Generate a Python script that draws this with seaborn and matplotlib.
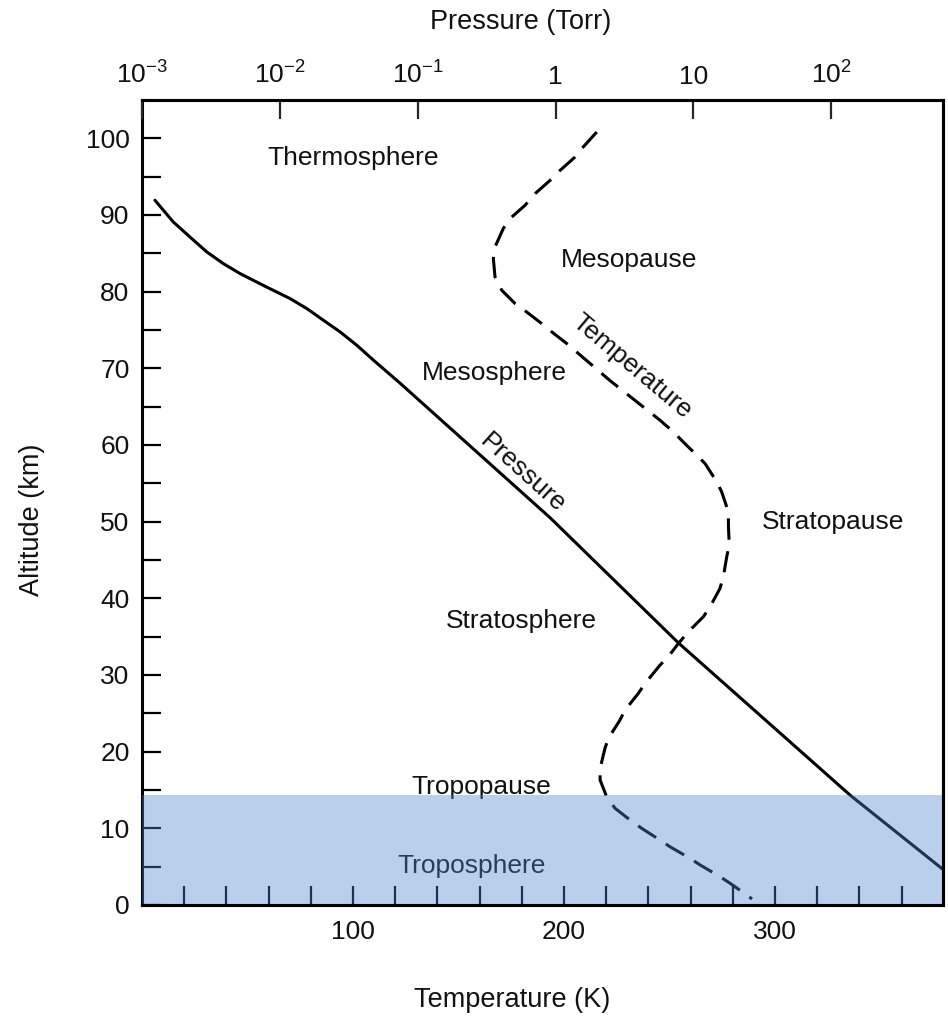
import numpy as np
import pandas as pd
import seaborn as sns
import matplotlib
matplotlib.use("Agg")
import matplotlib.pyplot as plt
from matplotlib.ticker import FixedLocator, FixedFormatter

sns.set_style("white")
plt.rcParams['font.family'] = ['Liberation Sans', 'DejaVu Sans']
plt.rcParams['mathtext.fontset'] = 'custom'
plt.rcParams['mathtext.rm'] = 'Liberation Sans'
plt.rcParams['mathtext.it'] = 'Liberation Sans:italic'
plt.rcParams['mathtext.bf'] = 'Liberation Sans:bold'

# ---- data ----
temp_K = [215.5, 208.4, 205.2, 197.3, 193.4, 186.3, 181.5, 174.4, 171.2, 167.3,
          166.5, 167.3, 170.5, 176.8, 182.3, 189.4, 194.2, 201.3, 221.8, 245.5,
          251.8, 256.5, 262.9, 266.8, 272.4, 274.7, 277.9, 277.9, 278.3, 277.1,
          275.5, 273.9, 269.2, 266.0, 258.9, 254.2, 249.4, 245.5, 238.4, 235.2,
          228.9, 226.5, 221.0, 219.4, 217.1, 217.1, 220.2, 224.2, 231.3, 236.8,
          245.5, 250.2, 259.7, 264.5, 273.9, 278.7, 286.6, 289.1]
temp_alt = [100.82, 98.66, 97.56, 95.61, 94.52, 92.79, 91.26, 89.53, 88.23, 85.83,
            84.32, 81.92, 80.18, 78.45, 77.35, 75.84, 74.75, 73.23, 68.40, 63.23,
            61.71, 60.40, 58.67, 57.59, 55.19, 53.89, 51.28, 49.54, 46.94, 45.41,
            42.80, 41.29, 38.89, 37.59, 35.63, 34.12, 32.37, 31.29, 28.90, 27.60,
            25.42, 24.12, 21.73, 20.43, 17.82, 16.30, 14.12, 12.61, 11.08, 10.00,
            8.47, 7.60, 6.09, 5.22, 3.70, 2.83, 1.30, 0.78]

press_log_torr = [-2.906, -2.773, -2.652, -2.530, -2.410, -2.289, -2.107, -1.926,
                  -1.805, -1.684, -1.563, -1.442, -1.321, -1.128, -0.039, 0.890,
                  2.138, 2.813]
press_alt = [91.92, 89.09, 87.13, 85.18, 83.66, 82.36, 80.70, 79.10,
             77.80, 76.27, 74.75, 73.01, 71.06, 68.06, 50.50, 34.20,
             14.30, 4.60]

troposphere_top_km = 14.3

temp_ticks = [100, 200, 300]
temp_minor = [20, 40, 60, 80, 120, 140, 160, 180, 220, 240, 260, 280, 320, 340, 360]
alt_ticks = [0, 10, 20, 30, 40, 50, 60, 70, 80, 90, 100]
alt_minor = [5, 15, 25, 35, 45, 55, 65, 75, 85, 95]
press_ticks = [1e-3, 1e-2, 1e-1, 1, 10, 100]
press_labels = ["10$^{-3}$", "10$^{-2}$", "10$^{-1}$", "1", "10", "10$^{2}$"]

regions = ["Thermosphere", "Mesopause", "Mesosphere", "Stratopause",
           "Stratosphere", "Tropopause", "Troposphere"]
region_T = [100, 231, 167, 327.5, 180, 161, 156.4]
region_alt = [97.4, 84.1, 69.4, 49.9, 37.0, 15.4, 5.1]

temp_df = pd.DataFrame({"T": temp_K, "alt": temp_alt})
press_df = pd.DataFrame({"P": [10 ** v for v in press_log_torr], "alt": press_alt})

# ---- figure ----
fig = plt.figure(figsize=(9.48, 10.19), dpi=100)
ax = fig.add_axes([142 / 948, 1 - 905 / 1019, (943 - 142) / 948, (905 - 100) / 1019])

sns.lineplot(data=temp_df, x="T", y="alt", sort=False, estimator=None, ax=ax,
             color="black", lw=2.2, linestyle=(0, (7, 3.8)))
ax.set_xlim(0, 379.6)
ax.set_ylim(0, 105)
ax.set_xlabel("")
ax.set_ylabel("")

ax.xaxis.set_major_locator(FixedLocator(temp_ticks))
ax.xaxis.set_minor_locator(FixedLocator(temp_minor))
ax.yaxis.set_major_locator(FixedLocator(alt_ticks))
ax.yaxis.set_minor_locator(FixedLocator(alt_minor))
ax.tick_params(axis="both", which="both", direction="in", length=14, width=1.6,
               color="black", labelsize=19, labelcolor="#111111")
ax.tick_params(axis="x", which="both", bottom=True, top=False, pad=11)
ax.tick_params(axis="y", which="both", left=True, right=False, pad=9)

for s in ax.spines.values():
    s.set_linewidth(2.2)
    s.set_color("black")

fs = 19
for name, tx, ty in zip(regions, region_T, region_alt):
    ax.text(tx, ty, name, ha="center", va="center", fontsize=fs, color="#111111")
ax.text(180.6, 56.3, "Pressure", rotation=-42, ha="center", va="center",
        fontsize=fs, color="#111111")
ax.text(232.2, 70.3, "Temperature", rotation=-40, ha="center", va="center",
        fontsize=fs, color="#111111")

# ---- pressure (top) axis ----
ax2 = ax.twiny()
sns.lineplot(data=press_df, x="P", y="alt", sort=False, estimator=None, ax=ax2,
             color="black", lw=2.2)
ax2.set_xscale("log")
ax2.set_xlim(1e-3, 10 ** 2.81)
ax2.set_ylim(0, 105)
ax2.set_xlabel("")
ax2.set_ylabel("")
ax2.xaxis.set_major_locator(FixedLocator(press_ticks))
ax2.xaxis.set_major_formatter(FixedFormatter(press_labels))
ax2.xaxis.set_minor_locator(FixedLocator([]))
ax2.tick_params(axis="x", which="both", direction="in", length=14, width=1.6,
                top=True, bottom=False, labeltop=True, labelbottom=False,
                labelsize=19, pad=8, labelcolor="#111111")
ax2.tick_params(axis="y", left=False, right=False, labelleft=False, labelright=False)

ax2.axhspan(0, troposphere_top_km, color=(0.31, 0.52, 0.80), alpha=0.39,
            lw=0, zorder=3)
for k, s in ax2.spines.items():
    s.set_linewidth(2.2)
    s.set_color("black")
    s.set_zorder(5)
ax2.spines["left"].set_visible(False)

fig.text(521 / 948, 1 - 22 / 1019, "Pressure (Torr)", ha="center", va="center",
         fontsize=19.5, color="#111111")
fig.text(32 / 948, 1 - 520 / 1019, "Altitude (km)", ha="center", va="center",
         rotation=90, fontsize=19.5, color="#111111")
fig.text(512 / 948, 1 - 1000 / 1019, "Temperature (K)", ha="center", va="center",
         fontsize=19.5, color="#111111")

fig.savefig("out.png", dpi=100)
